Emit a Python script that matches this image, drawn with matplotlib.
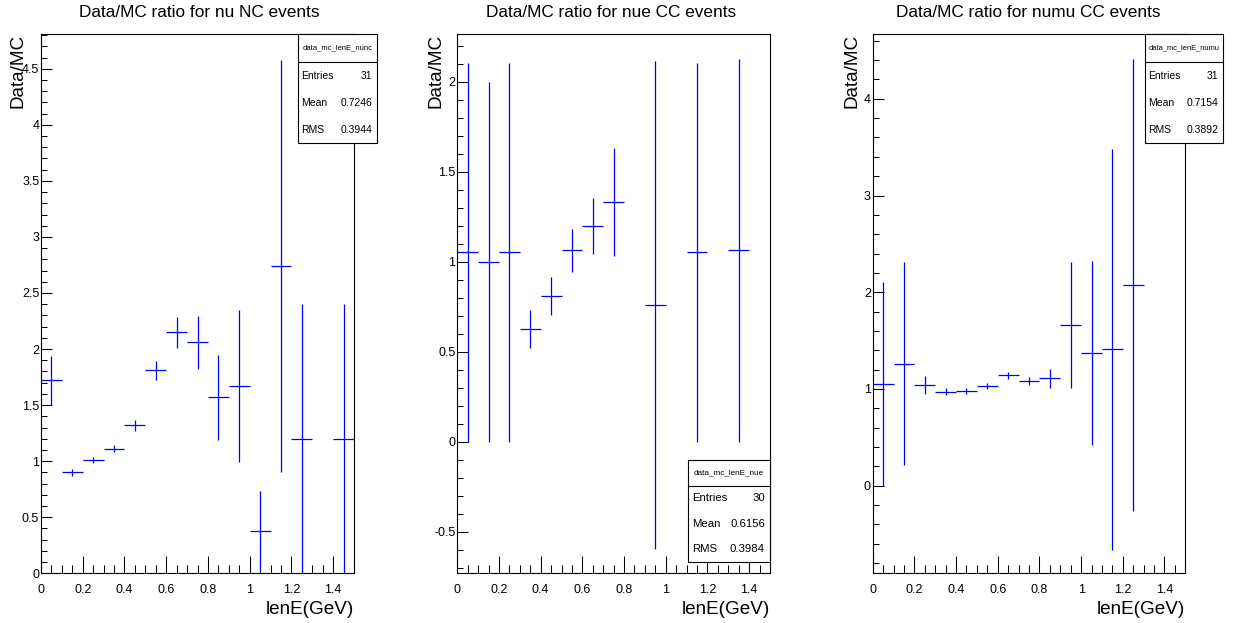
import matplotlib
matplotlib.use("Agg")
import matplotlib.pyplot as plt
from matplotlib.patches import Rectangle
from matplotlib.lines import Line2D
from matplotlib.ticker import MultipleLocator, FuncFormatter

plt.rcParams['font.family'] = ['Liberation Sans', 'DejaVu Sans']
plt.rcParams['axes.unicode_minus'] = False

W, H = 1245, 623
DPI = 100

BIN_HALF = 0.05

# nu NC events
nunc_centers = [0.05, 0.15, 0.25, 0.35, 0.45, 0.55, 0.65, 0.75, 0.85, 0.95, 1.05, 1.15, 1.25, 1.45]
nunc_ratio = [1.72, 0.90, 1.01, 1.11, 1.32, 1.81, 2.15, 2.06, 1.57, 1.67, 0.38, 2.74, 1.20, 1.20]
nunc_err = [0.22, 0.03, 0.024, 0.03, 0.048, 0.082, 0.14, 0.235, 0.38, 0.68, 0.35, 1.84, 1.20, 1.20]

# nue CC events
nue_centers = [0.05, 0.15, 0.25, 0.35, 0.45, 0.55, 0.65, 0.75, 0.95, 1.15, 1.35]
nue_ratio = [1.053, 1.0, 1.053, 0.625, 0.808, 1.063, 1.20, 1.333, 0.758, 1.053, 1.063]
nue_err = [1.053, 1.0, 1.053, 0.105, 0.105, 0.12, 0.155, 0.30, 1.355, 1.053, 1.063]

# numu CC events
numu_centers = [0.05, 0.15, 0.25, 0.35, 0.45, 0.55, 0.65, 0.75, 0.85, 0.95, 1.05, 1.15, 1.25]
numu_ratio = [1.052, 1.262, 1.041, 0.972, 0.983, 1.031, 1.142, 1.083, 1.111, 1.659, 1.369, 1.41, 2.075]
numu_err = [1.052, 1.05, 0.095, 0.035, 0.03, 0.03, 0.035, 0.04, 0.10, 0.65, 0.95, 2.07, 2.335]

titles = ["Data/MC ratio for nu NC events",
          "Data/MC ratio for nue CC events",
          "Data/MC ratio for numu CC events"]
hist_names = ["data_mc_lenE_nunc", "data_mc_lenE_nue", "data_mc_lenE_numu"]
stat_entries = [31, 30, 31]
stat_mean = [0.7246, 0.6156, 0.7154]
stat_rms = [0.3944, 0.3984, 0.3892]

x_label = "lenE(GeV)"
y_label = "Data/MC"


def fx(px):
    return px / W


def fy(py):
    return 1.0 - py / H


fig = plt.figure(figsize=(W / DPI, H / DPI), dpi=DPI)
fig.patch.set_facecolor("white")


def make_axes(left, right, top, bottom):
    return fig.add_axes([fx(left), fy(bottom), fx(right) - fx(left), (bottom - top) / H])


def style_axes(ax, ylim, ymajor, yminor):
    ax.set_xlim(0, 1.5)
    ax.set_ylim(*ylim)
    ax.xaxis.set_major_locator(MultipleLocator(0.2))
    ax.xaxis.set_minor_locator(MultipleLocator(0.05))
    ax.yaxis.set_major_locator(MultipleLocator(ymajor))
    ax.yaxis.set_minor_locator(MultipleLocator(yminor))
    fmt = FuncFormatter(lambda v, p: "%g" % round(v, 6))
    ax.xaxis.set_major_formatter(fmt)
    ax.yaxis.set_major_formatter(fmt)
    ax.tick_params(axis="x", which="major", direction="in", length=12, width=0.75,
                   labelsize=9, pad=8, top=False, colors="black")
    ax.tick_params(axis="x", which="minor", direction="in", length=6, width=0.75, top=False)
    ax.tick_params(axis="y", which="major", direction="in", length=8, width=0.75,
                   labelsize=9, pad=1.3, right=False)
    ax.tick_params(axis="y", which="minor", direction="in", length=4, width=0.75, right=False)
    for sp in ax.spines.values():
        sp.set_linewidth(0.8)
        sp.set_color("black")


def draw_points(ax, centers, ratio, err):
    ax.errorbar(centers, ratio, xerr=BIN_HALF, yerr=err, fmt="none",
                ecolor="#0000ff", elinewidth=0.9, capsize=0, zorder=3)


def stats_box(left, top, right, bottom, divider, name, entries, mean, rms,
              name_size, text_size):
    rect = Rectangle((fx(left), fy(bottom)), fx(right) - fx(left), (bottom - top) / H,
                     transform=fig.transFigure, facecolor="white", edgecolor="black",
                     linewidth=0.8, zorder=5)
    fig.add_artist(rect)
    fig.add_artist(Line2D([fx(left), fx(right)], [fy(divider), fy(divider)],
                          transform=fig.transFigure, color="black", linewidth=0.8, zorder=6))
    fig.text(fx((left + right) / 2), fy((top + divider) / 2), name, fontsize=name_size,
             ha="center", va="center", zorder=7)
    step = (bottom - divider) / 3.0
    rows = [("Entries", "%d" % entries), ("Mean", "%.4f" % mean), ("RMS", "%.4f" % rms)]
    for i, (lab, val) in enumerate(rows):
        yc = divider + step * (i + 0.5)
        fig.text(fx(left + 3.5), fy(yc), lab, fontsize=text_size, ha="left", va="center", zorder=7)
        fig.text(fx(right - 5), fy(yc), val, fontsize=text_size, ha="right", va="center", zorder=7)


TOP, BOTTOM = 34, 573.3

panels = [
    dict(left=41, right=354, ylim=(0, 4.81), ymaj=0.5, ymin=0.1,
         data=(nunc_centers, nunc_ratio, nunc_err), title_x=199, ylab_x=18.5,
         box=(298, 34, 377, 143.3, 62.3), name_size=5.5, text_size=7.5),
    dict(left=457.3, right=770, ylim=(-0.731, 2.265), ymaj=0.5, ymin=0.1,
         data=(nue_centers, nue_ratio, nue_err), title_x=610.7, ylab_x=436.3,
         box=(688.3, 460, 770, 561.7, 485.7), name_size=5.85, text_size=8.2),
    dict(left=872.7, right=1185.3, ylim=(-0.906, 4.67), ymaj=1.0, ymin=0.2,
         data=(numu_centers, numu_ratio, numu_err), title_x=1028, ylab_x=852.5,
         box=(1145, 34, 1223.3, 143.3, 62.3), name_size=5.45, text_size=7.5),
]

for i, p in enumerate(panels):
    ax = make_axes(p["left"], p["right"], TOP, BOTTOM)
    style_axes(ax, p["ylim"], p["ymaj"], p["ymin"])
    draw_points(ax, *p["data"])
    fig.text(fx(p["title_x"]), fy(12.5), titles[i], fontsize=12.4, ha="center", va="center")
    fig.text(fx(p["ylab_x"]), fy(TOP), y_label, fontsize=13.6, rotation=90,
             ha="center", va="top")
    fig.text(fx(p["right"]), fy(609), x_label, fontsize=13.6, ha="right", va="center")
    l, t, r, b, d = p["box"]
    stats_box(l, t, r, b, d, hist_names[i], stat_entries[i], stat_mean[i], stat_rms[i],
              p["name_size"], p["text_size"])

fig.savefig("out.png", dpi=DPI, facecolor="white")
